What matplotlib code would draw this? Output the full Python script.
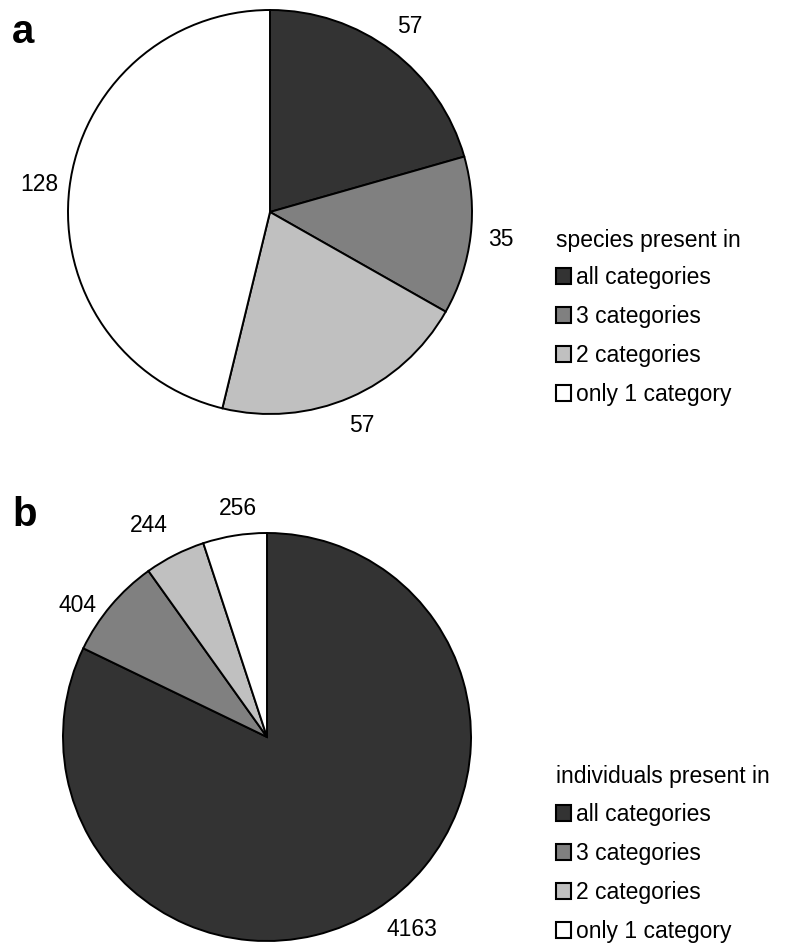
import matplotlib.pyplot as plt
from matplotlib.patches import Patch

plt.rcParams['font.family'] = ['Liberation Sans', 'DejaVu Sans']

categories = ["all categories", "3 categories", "2 categories", "only 1 category"]
colors = ["#333333", "#808080", "#c0c0c0", "#ffffff"]

species = [57, 35, 57, 128]
individuals = [4163, 404, 244, 256]

W, H = 793, 948
fig = plt.figure(figsize=(W / 100, H / 100), dpi=100)


def draw_pie(cx, cy, r, values, title, title_y, letter, letter_y, nudge=None):
    ax = fig.add_axes([(cx - r) / W, (H - cy - r) / H, 2 * r / W, 2 * r / H])
    _, texts = ax.pie(values, labels=[str(v) for v in values], colors=colors,
                      startangle=90, counterclock=False, labeldistance=1.15,
                      wedgeprops=dict(edgecolor="black", linewidth=1.4),
                      textprops=dict(fontsize=16.5, ha="center", va="center"))
    # labels in the original were shifted a little by hand
    if nudge:
        for t, (dx, dy) in zip(texts, nudge):
            x, y = t.get_position()
            t.set_position((x + dx / r, y - dy / r))
    ax.set_xlim(-1, 1)
    ax.set_ylim(-1, 1)
    ax.set_aspect("equal")
    ax.axis("off")

    fig.text(556 / W, 1 - title_y / H, title, fontsize=16.5, va="center", ha="left")
    handles = [Patch(facecolor=c, edgecolor="black", linewidth=1.5) for c in colors]
    fig.legend(handles, categories, loc="upper left",
               bbox_to_anchor=(556 / W, 1 - (title_y + 26) / H),
               frameon=False, fontsize=16.5,
               handlelength=0.66, handleheight=0.66, handletextpad=0.22,
               labelspacing=0.7, borderaxespad=0, borderpad=0)

    fig.text(12 / W, 1 - letter_y / H, letter, fontsize=29, fontweight="bold",
             va="center", ha="left")


draw_pie(270, 212, 202, species, "species present in", 240, "a", 32)
draw_pie(267, 737, 204, individuals, "individuals present in", 777, "b", 515,
         nudge=[(20, -6), (-10, 20), (-12, -2), (8, 3)])

fig.savefig("out.png", dpi=100, facecolor="white")
